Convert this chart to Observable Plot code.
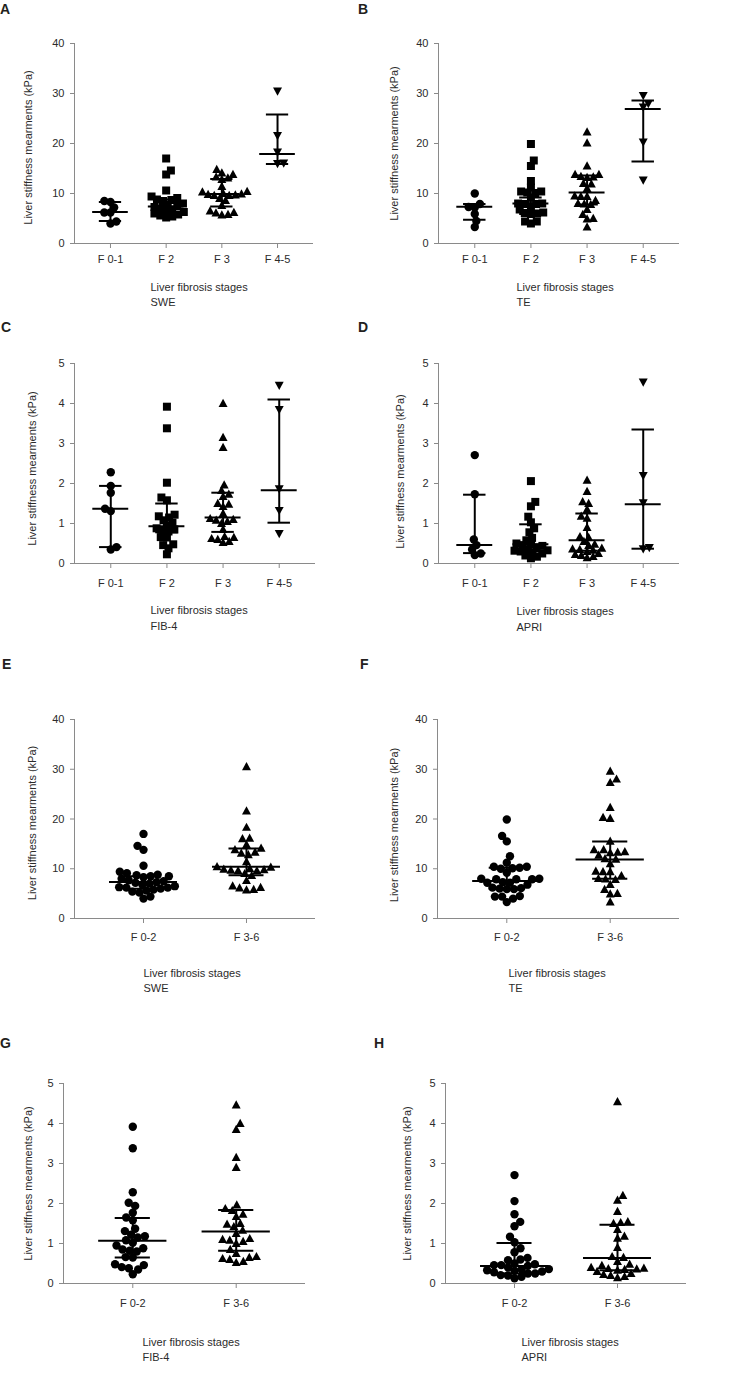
<!DOCTYPE html>
<html>
<head>
<meta charset="utf-8">
<script src="https://cdn.jsdelivr.net/npm/d3@7"></script>
<script src="https://cdn.jsdelivr.net/npm/@observablehq/plot@0.6"></script>
<style>
  html, body { margin: 0; padding: 0; background: #fff; }
  #root { position: relative; width: 734px; height: 1373px; overflow: hidden; background: #fff; }
  .letter { position: absolute; font: bold 14px "Liberation Sans", Arial, sans-serif; line-height: 14px; color: #231f20; }
</style>
</head>
<body>
<div id="root"></div>
<script>
// ---------------- data ----------------
const stagesFour = ["F 0-1", "F 2", "F 3", "F 4-5"];
const stagesTwo = ["F 0-2", "F 3-6"];
const ticksKpa = [0, 10, 20, 30, 40];
const ticksScore = [0, 1, 2, 3, 4, 5];
const yTitle = "Liver stiffness mearments (kPa)";
const xTitle = "Liver fibrosis stages";

// A - SWE
const sweF01 = [8.5, 8.3, 7.2, 6.2, 6.2, 4.4, 4.0];
const sweF2 = [17.0, 14.6, 13.8, 10.6, 9.4, 9.1, 8.8, 8.7, 8.5, 8.0, 7.7, 7.5, 7.3, 7.0, 6.8, 6.5, 6.3, 6.0, 5.8, 5.6, 5.4, 5.2];
const sweF3 = [14.8, 14.1, 13.8, 13.3, 13.1, 12.8, 11.4, 10.4, 10.3, 10.0, 9.9, 9.8, 9.7, 9.6, 9.6, 9.0, 8.6, 7.6, 6.5, 6.2, 6.1, 5.8, 5.7];
const sweF45 = [30.5, 21.6, 18.3, 16.1, 16.0];
const sweMedian = [6.3, 7.4, 9.9, 17.9];
const sweQ1 = [4.5, 6.2, 7.4, 15.9];
const sweQ3 = [8.3, 8.8, 12.9, 25.8];

// B - TE
const teF01 = [10.0, 7.9, 7.3, 7.2, 5.9, 4.5, 3.3];
const teF2 = [19.9, 16.6, 15.5, 12.5, 11.2, 10.4, 10.4, 10.2, 10.1, 9.2, 8.0, 8.0, 7.9, 7.9, 7.2, 6.8, 6.2, 6.1, 6.0, 5.9, 4.4, 4.4, 4.0];
const teF3 = [22.3, 20.1, 15.5, 13.8, 13.8, 13.4, 13.3, 13.2, 12.0, 11.9, 11.0, 9.5, 9.4, 9.4, 8.6, 8.0, 7.9, 7.8, 6.8, 5.8, 5.0, 4.9, 3.3];
const teF45 = [29.6, 28.0, 27.3, 20.3, 12.7];
const teMedian = [7.35, 8.0, 10.2, 26.9];
const teQ1 = [4.75, 5.9, 7.8, 16.4];
const teQ3 = [7.9, 9.2, 13.6, 28.6];

// C - FIB-4
const fibF01 = [2.28, 1.94, 1.77, 1.37, 1.31, 0.41, 0.35];
const fibF2 = [3.92, 3.38, 2.02, 1.65, 1.58, 1.22, 1.18, 1.15, 1.08, 1.02, 0.95, 0.88, 0.85, 0.82, 0.80, 0.66, 0.65, 0.48, 0.46, 0.38, 0.23];
const fibF3 = [4.0, 3.15, 2.9, 1.96, 1.82, 1.73, 1.67, 1.5, 1.48, 1.42, 1.25, 1.12, 1.1, 1.08, 1.05, 1.0, 0.85, 0.67, 0.65, 0.62, 0.6, 0.55, 0.52];
const fibF45 = [4.46, 3.85, 1.87, 1.33, 0.75];
const fibMedian = [1.37, 0.93, 1.15, 1.83];
const fibQ1 = [0.41, 0.78, 0.79, 1.02];
const fibQ3 = [1.94, 1.5, 1.77, 4.1];

// D - APRI
const apriF01 = [2.71, 1.73, 0.60, 0.46, 0.35, 0.25, 0.21];
const apriF2 = [2.06, 1.54, 1.43, 1.17, 1.03, 0.88, 0.78, 0.64, 0.58, 0.50, 0.48, 0.46, 0.44, 0.40, 0.36, 0.33, 0.32, 0.30, 0.28, 0.25, 0.20, 0.17, 0.13];
const apriF3 = [2.08, 1.80, 1.54, 1.50, 1.35, 1.18, 1.13, 0.90, 0.67, 0.65, 0.55, 0.48, 0.45, 0.38, 0.36, 0.35, 0.33, 0.30, 0.25, 0.22, 0.20, 0.17, 0.14];
const apriF45 = [4.54, 2.20, 1.52, 0.40, 0.37];
const apriMedian = [0.46, 0.48, 0.58, 1.48];
const apriQ1 = [0.26, 0.30, 0.32, 0.37];
const apriQ3 = [1.72, 0.98, 1.25, 3.35];

// E-H: two-group summaries (F 0-2 / F 3-6)
const sweMedian2 = [7.36, 10.4], sweQ1_2 = [6.0, 8.7], sweQ3_2 = [8.5, 14.05];
const teMedian2 = [7.56, 11.84], teQ1_2 = [6.0, 8.0], teQ3_2 = [10.2, 15.5];
const fibMedian2 = [1.07, 1.3], fibQ1_2 = [0.65, 0.82], fibQ3_2 = [1.64, 1.84];
const apriMedian2 = [0.44, 0.64], apriQ1_2 = [0.25, 0.33], apriQ3_2 = [1.01, 1.47];

// ---------------- styling / symbols ----------------
const axisColor = "#8a8a8a";
const textColor = "#2b2b2b";
const font = '"Liberation Sans", Arial, sans-serif';

const symCircle = {draw(ctx, size) { const r = Math.sqrt(size / Math.PI); ctx.moveTo(r, 0); ctx.arc(0, 0, r, 0, 2 * Math.PI); }};
const symSquare = {draw(ctx, size) { const r = Math.sqrt(size / Math.PI); ctx.rect(-r, -r, 2 * r, 2 * r); }};
const symUp = {draw(ctx, size) { const r = Math.sqrt(size / Math.PI); ctx.moveTo(0, -1.2 * r); ctx.lineTo(1.12 * r, 0.85 * r); ctx.lineTo(-1.12 * r, 0.85 * r); ctx.closePath(); }};
const symDown = {draw(ctx, size) { const r = Math.sqrt(size / Math.PI); ctx.moveTo(0, 1.2 * r); ctx.lineTo(1.12 * r, -0.85 * r); ctx.lineTo(-1.12 * r, -0.85 * r); ctx.closePath(); }};

const panels = [
  {letter: "A", cats: stagesFour, groups: [sweF01, sweF2, sweF3, sweF45], syms: [symCircle, symSquare, symUp, symDown], med: sweMedian, q1: sweQ1, q3: sweQ3, yMax: 40, yTicks: ticksKpa, sub: "SWE",
   left: 0, x0: 74, x1: 313, y0: 43, y1: 243, tickPad: 7, ylDx: -46, ylDy: 4, xlDx: -43.5, xlDy: 43.5, subGap: 15, lx: 0, ly: 1.5},
  {letter: "B", cats: stagesFour, groups: [teF01, teF2, teF3, teF45], syms: [symCircle, symSquare, symUp, symDown], med: teMedian, q1: teQ1, q3: teQ3, yMax: 40, yTicks: ticksKpa, sub: "TE",
   left: 367, x0: 438, x1: 679, y0: 43, y1: 243, tickPad: 7, ylDx: -44, ylDy: 0, xlDx: -42.5, xlDy: 43.5, subGap: 15, lx: 358, ly: 1.5},
  {letter: "C", cats: stagesFour, groups: [fibF01, fibF2, fibF3, fibF45], syms: [symCircle, symSquare, symUp, symDown], med: fibMedian, q1: fibQ1, q3: fibQ3, yMax: 5, yTicks: ticksScore, sub: "FIB-4",
   left: 0, x0: 74, x1: 315, y0: 363, y1: 563, tickPad: 10.5, ylDx: -42, ylDy: 5, xlDx: -44.5, xlDy: 46.5, subGap: 16, lx: 1, ly: 320},
  {letter: "D", cats: stagesFour, groups: [apriF01, apriF2, apriF3, apriF45], syms: [symCircle, symSquare, symUp, symDown], med: apriMedian, q1: apriQ1, q3: apriQ3, yMax: 5, yTicks: ticksScore, sub: "APRI",
   left: 367, x0: 438, x1: 679, y0: 363, y1: 563, tickPad: 10.5, ylDx: -38, ylDy: 8, xlDx: -42.5, xlDy: 47.5, subGap: 16, lx: 358, ly: 320},
  {letter: "E", cats: stagesTwo, groups: [sweF01.concat(sweF2), sweF3.concat(sweF45)], syms: [symCircle, symUp], med: sweMedian2, q1: sweQ1_2, q3: sweQ3_2, yMax: 40, yTicks: ticksKpa, sub: "SWE",
   left: 0, x0: 74, x1: 315, y0: 719, y1: 918, tickPad: 9.5, ylDx: -42, ylDy: 4, xlDx: -51.5, xlDy: 55, subGap: 15, lx: 2, ly: 657},
  {letter: "F", cats: stagesTwo, groups: [teF01.concat(teF2), teF3.concat(teF45)], syms: [symCircle, symUp], med: teMedian2, q1: teQ1_2, q3: teQ3_2, yMax: 40, yTicks: ticksKpa, sub: "TE",
   left: 367, x0: 437, x1: 679, y0: 719, y1: 918, tickPad: 9.5, ylDx: -43, ylDy: 6, xlDx: -50, xlDy: 55, subGap: 15, lx: 360, ly: 657},
  {letter: "G", cats: stagesTwo, groups: [fibF01.concat(fibF2), fibF3.concat(fibF45)], syms: [symCircle, symUp], med: fibMedian2, q1: fibQ1_2, q3: fibQ3_2, yMax: 5, yTicks: ticksScore, sub: "FIB-4",
   left: 0, x0: 63, x1: 305, y0: 1083, y1: 1283, tickPad: 11, ylDx: -35, ylDy: 0, xlDx: -42, xlDy: 59, subGap: 15, lx: 0, ly: 1036},
  {letter: "H", cats: stagesTwo, groups: [apriF01.concat(apriF2), apriF3.concat(apriF45)], syms: [symCircle, symUp], med: apriMedian2, q1: apriQ1_2, q3: apriQ3_2, yMax: 5, yTicks: ticksScore, sub: "APRI",
   left: 367, x0: 445, x1: 686, y0: 1083, y1: 1283, tickPad: 11, ylDx: -38, ylDy: 0, xlDx: -44.5, xlDy: 59, subGap: 15, lx: 374, ly: 1036}
];

// beeswarm: horizontal pixel offsets so markers do not pile up
function swarm(values, pxPerUnit, D) {
  const order = values.map((v, i) => i).sort((a, b) => values[a] - values[b]);
  const placed = [];
  const out = new Array(values.length);
  let side = 1;
  for (const i of order) {
    const y = values[i] * pxPerUnit;
    const iv = [];
    for (const p of placed) {
      const dy = y - p.y;
      if (Math.abs(dy) < D) { const w = Math.sqrt(D * D - dy * dy); iv.push([p.x - w, p.x + w]); }
    }
    const cands = [0];
    for (const [a, b] of iv) cands.push(a, b);
    cands.sort((a, b) => (Math.abs(a) - Math.abs(b)) || (side * (b - a)));
    let x = 0;
    for (const c of cands) {
      if (iv.every(([a, b]) => c <= a + 1e-6 || c >= b - 1e-6)) { x = c; break; }
    }
    if (x !== 0) side = -side;
    placed.push({x, y});
    out[i] = x;
  }
  return out;
}

const root = document.getElementById("root");

for (const P of panels) {
  const n = P.cats.length;
  const pad = n === 4 ? 0.646 : 0.67;
  const xDom = [-pad, n - 1 + pad];
  const fw = P.x1 - P.x0, fh = P.y1 - P.y0;
  const kx = fw / (xDom[1] - xDom[0]);
  const ky = fh / P.yMax;
  const collide = n === 4 ? 6.2 : 7.2;
  const medW = n === 4 ? 0.32 : 0.33;
  const capW = n === 4 ? 0.2 : 0.17;
  const mt = 20, mb = 90, W = 367;

  const marks = [
    Plot.ruleY([0], {stroke: axisColor, insetLeft: -4}),
    Plot.ruleX([xDom[0]], {stroke: axisColor}),
    Plot.axisY({ticks: P.yTicks, tickFormat: (d) => String(d), tickSize: 4, tickPadding: 6, stroke: axisColor, fill: textColor, label: null, fontSize: 11}),
    Plot.axisX({ticks: d3.range(n), tickFormat: (i) => P.cats[i], tickSize: 5, tickPadding: P.tickPad, stroke: axisColor, fill: textColor, label: null, fontSize: 11})
  ];

  P.groups.forEach((vals, gi) => {
    const offs = swarm(vals, ky, collide);
    const pts = vals.map((v, j) => ({x: gi + offs[j] / kx, y: v}));
    marks.push(Plot.dot(pts, {x: "x", y: "y", r: gi === 0 ? 4.2 : 4, symbol: P.syms[gi], fill: "#000", stroke: "none"}));
  });

  const st = P.cats.map((c, i) => ({i, med: P.med[i], q1: P.q1[i], q3: P.q3[i]}));
  marks.push(Plot.ruleX(st, {x: "i", y1: "q1", y2: "q3", stroke: "#000", strokeWidth: 2}));
  marks.push(Plot.ruleY(st, {y: "med", x1: (d) => d.i - medW, x2: (d) => d.i + medW, stroke: "#000", strokeWidth: 2}));
  marks.push(Plot.ruleY(st, {y: "q1", x1: (d) => d.i - capW, x2: (d) => d.i + capW, stroke: "#000", strokeWidth: 2}));
  marks.push(Plot.ruleY(st, {y: "q3", x1: (d) => d.i - capW, x2: (d) => d.i + capW, stroke: "#000", strokeWidth: 2}));

  marks.push(Plot.text([yTitle], {text: (d) => d, frameAnchor: "left", textAnchor: "middle", lineAnchor: "middle", rotate: -90, dx: P.ylDx, dy: P.ylDy, fontSize: 11, fill: textColor}));
  marks.push(Plot.text([xTitle], {text: (d) => d, frameAnchor: "bottom", textAnchor: "start", lineAnchor: "middle", dx: P.xlDx, dy: P.xlDy, fontSize: 11, fill: textColor}));
  marks.push(Plot.text([P.sub], {text: (d) => d, frameAnchor: "bottom", textAnchor: "start", lineAnchor: "middle", dx: P.xlDx, dy: P.xlDy + P.subGap, fontSize: 11, fill: textColor}));

  const svg = Plot.plot({
    width: W,
    height: mt + fh + mb,
    marginLeft: P.x0 - P.left,
    marginRight: P.left + W - P.x1,
    marginTop: mt,
    marginBottom: mb,
    x: {type: "linear", domain: xDom},
    y: {type: "linear", domain: [0, P.yMax]},
    style: {position: "absolute", left: P.left + "px", top: (P.y0 - mt) + "px", overflow: "visible", background: "transparent", fontFamily: font, fontSize: "11px", color: textColor},
    marks
  });
  root.appendChild(svg);

  const L = document.createElement("div");
  L.className = "letter";
  L.textContent = P.letter;
  L.style.left = P.lx + "px";
  L.style.top = P.ly + "px";
  root.appendChild(L);
}
</script>
</body>
</html>
